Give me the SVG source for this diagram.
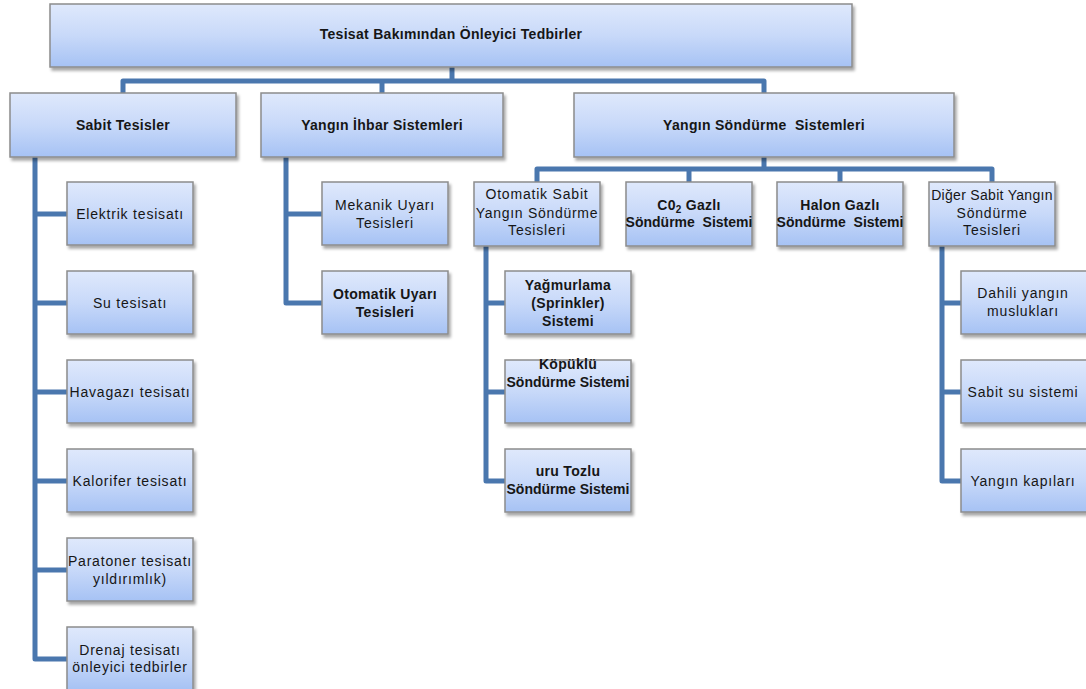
<svg xmlns="http://www.w3.org/2000/svg" width="1086" height="689" viewBox="0 0 1086 689">
<defs>
<linearGradient id="g" x1="0" y1="0" x2="0" y2="1">
<stop offset="0" stop-color="#dfe9fc"/>
<stop offset="0.5" stop-color="#c8d9f9"/>
<stop offset="1" stop-color="#a6c2f4"/>
</linearGradient>
<filter id="sh" x="-10%" y="-10%" width="125%" height="135%">
<feDropShadow dx="2" dy="3" stdDeviation="1.6" flood-color="#000" flood-opacity="0.35"/>
</filter>
<style>
.box{fill:url(#g);stroke:#8c8c8c;stroke-width:1.5;filter:url(#sh)}
.t{font-family:"Liberation Sans",Arial,sans-serif;font-size:14px;fill:#161616;text-anchor:middle;letter-spacing:0.8px}
.b{font-weight:bold;letter-spacing:0.3px}
.c{fill:none;stroke:#4a77ae;stroke-width:5;stroke-linejoin:round}
</style>
</defs>
<rect width="1086" height="689" fill="#ffffff"/>
<g id="connectors" class="c">
<path d="M452,67 V81"/>
<path d="M123,93 V81 H764 V93"/>
<path d="M382,81 V93"/>
<path d="M764,157 V169"/>
<path d="M537,182 V169 H992 V182"/>
<path d="M689,169 V182"/>
<path d="M840,169 V182"/>
<path d="M35,157 V659 H67"/>
<path d="M35,214 H67 M35,303 H67 M35,392 H67 M35,481 H67 M35,570 H67"/>
<path d="M286,157 V303 H322"/>
<path d="M286,214 H322"/>
<path d="M486,246 V481 H505"/>
<path d="M486,303 H505 M486,392 H505"/>
<path d="M942,246 V481 H961"/>
<path d="M942,303 H961 M942,392 H961"/>
</g>
<g id="n-root"><rect class="box" x="50" y="4" width="802" height="63"/><text class="t b" x="451" y="39">Tesisat Bakımından Önleyici Tedbirler</text></g>
<g id="n-sabit"><rect class="box" x="10" y="93" width="226" height="64"/><text class="t b" x="123" y="130">Sabit Tesisler</text></g>
<g id="n-ihbar"><rect class="box" x="261" y="93" width="242" height="64"/><text class="t b" x="382" y="130">Yangın İhbar Sistemleri</text></g>
<g id="n-sondurme"><rect class="box" x="574" y="93" width="380" height="64"/><text class="t b" x="764" y="130" xml:space="preserve">Yangın Söndürme  Sistemleri</text></g>

<g id="n-elektrik"><rect class="box" x="67" y="182" width="126" height="63"/><text class="t" x="130" y="219">Elektrik tesisatı</text></g>
<g id="n-su"><rect class="box" x="67" y="271" width="126" height="63"/><text class="t" x="130" y="308">Su tesisatı</text></g>
<g id="n-havagazi"><rect class="box" x="67" y="360" width="126" height="63"/><text class="t" x="130" y="397">Havagazı tesisatı</text></g>
<g id="n-kalorifer"><rect class="box" x="67" y="449" width="126" height="63"/><text class="t" x="130" y="486">Kalorifer tesisatı</text></g>
<g id="n-paratoner"><rect class="box" x="67" y="538" width="126" height="63"/><text class="t" x="130" y="566">Paratoner tesisatı</text><text class="t" x="130" y="584">yıldırımlık)</text></g>
<g id="n-drenaj"><rect class="box" x="67" y="627" width="126" height="63"/><text class="t" x="130" y="655">Drenaj tesisatı</text><text class="t" x="130" y="672">önleyici tedbirler</text></g>

<g id="n-mekanik"><rect class="box" x="322" y="182" width="126" height="63"/><text class="t" x="385" y="210">Mekanik Uyarı</text><text class="t" x="385" y="228">Tesisleri</text></g>
<g id="n-otouyari"><rect class="box" x="322" y="271" width="126" height="63"/><text class="t b" x="385" y="299">Otomatik Uyarı</text><text class="t b" x="385" y="317">Tesisleri</text></g>

<g id="n-otosabit"><rect class="box" x="474" y="182" width="126" height="64"/><text class="t" x="537" y="199">Otomatik Sabit</text><text class="t" x="537" y="218" style="letter-spacing:0.7px">Yangın Söndürme</text><text class="t" x="537" y="235">Tesisleri</text></g>
<g id="n-co2"><rect class="box" x="626" y="182" width="126" height="64"/><text class="t b" x="689" y="210">C0<tspan font-size="10" dy="3">2</tspan><tspan dy="-3"> Gazlı</tspan></text><text class="t b" x="689" y="227" xml:space="preserve" style="letter-spacing:0">Söndürme  Sistemi</text></g>
<g id="n-halon"><rect class="box" x="777" y="182" width="126" height="64"/><text class="t b" x="840" y="210">Halon Gazlı</text><text class="t b" x="840" y="227" xml:space="preserve" style="letter-spacing:0">Söndürme  Sistemi</text></g>
<g id="n-diger"><rect class="box" x="929" y="182" width="126" height="64"/><text class="t" x="992" y="200" style="letter-spacing:0.3px">Diğer Sabit Yangın</text><text class="t" x="992" y="218">Söndürme</text><text class="t" x="992" y="235">Tesisleri</text></g>

<g id="n-yagmurlama"><rect class="box" x="505" y="271" width="126" height="63"/><text class="t b" x="568" y="290">Yağmurlama</text><text class="t b" x="568" y="308">(Sprinkler)</text><text class="t b" x="568" y="326">Sistemi</text></g>
<g id="n-kopuklu"><rect class="box" x="505" y="360" width="126" height="63"/><text class="t b" x="568" y="369">Köpüklü</text><text class="t b" x="568" y="387" style="letter-spacing:0">Söndürme Sistemi</text></g>
<g id="n-tozlu"><rect class="box" x="505" y="449" width="126" height="63"/><text class="t b" x="568" y="476">uru Tozlu</text><text class="t b" x="568" y="494" style="letter-spacing:0">Söndürme Sistemi</text></g>

<g id="n-dahili"><rect class="box" x="961" y="271" width="126" height="63"/><text class="t" x="1023" y="298">Dahili yangın</text><text class="t" x="1023" y="316">muslukları</text></g>
<g id="n-sabitsu"><rect class="box" x="961" y="360" width="126" height="63"/><text class="t" x="1023" y="397">Sabit su sistemi</text></g>
<g id="n-kapilar"><rect class="box" x="961" y="449" width="126" height="63"/><text class="t" x="1023" y="486">Yangın kapıları</text></g>
</svg>
